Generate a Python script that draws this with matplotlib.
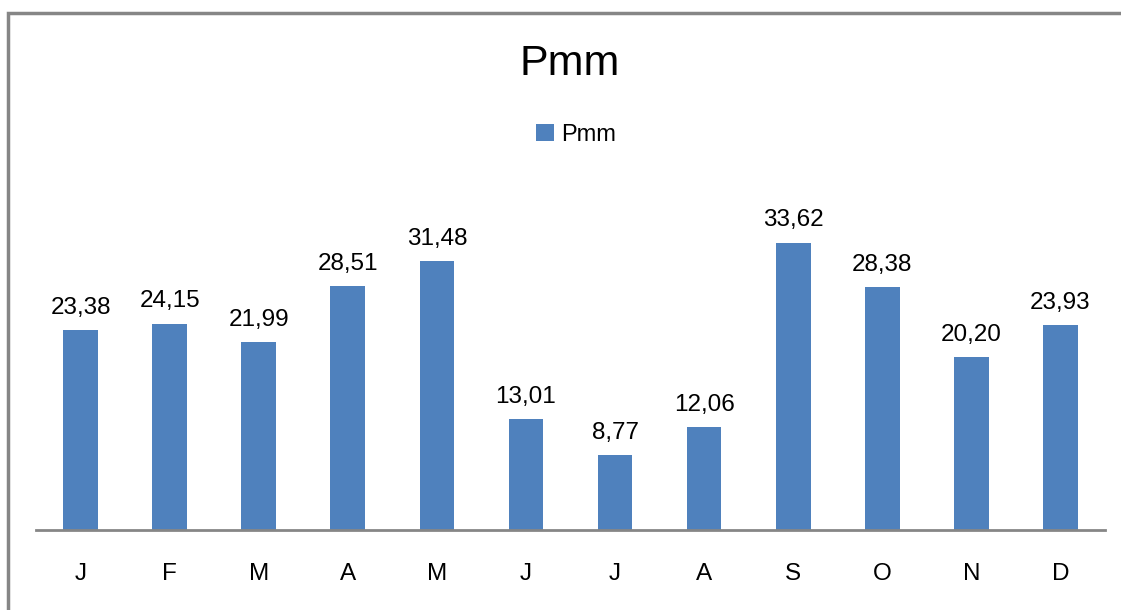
import matplotlib.pyplot as plt
from matplotlib.patches import Rectangle

plt.rcParams['font.family'] = ['Liberation Sans', 'DejaVu Sans']

# Precipitação média mensal
meses = ['J', 'F', 'M', 'A', 'M', 'J', 'J', 'A', 'S', 'O', 'N', 'D']
pmm = [23.38, 24.15, 21.99, 28.51, 31.48, 13.01, 8.77, 12.06, 33.62, 28.38, 20.20, 23.93]

cor_barra = '#4F81BD'
cor_eixo = '#868686'

fig = plt.figure(figsize=(11.21, 6.10), dpi=100)
ax = fig.add_axes([36 / 1121, 80 / 610, 1069 / 1121, 342 / 610])

x = list(range(len(pmm)))
barras = ax.bar(x, pmm, width=0.39, color=cor_barra, label='Pmm')

# Rótulos de valor com vírgula decimal
for xi, v in zip(x, pmm):
    ax.text(xi, v + 1.3, f'{v:.2f}'.replace('.', ','), ha='center', va='bottom',
            fontsize=17.5, color='black')

ax.set_xlim(-0.5, len(pmm) - 0.5)
ax.set_ylim(0, 40)
ax.set_xticks(x)
ax.set_xticklabels(meses, fontsize=17.5)
ax.tick_params(axis='x', length=0, pad=24)
ax.set_yticks([])
for lado in ['top', 'right', 'left']:
    ax.spines[lado].set_visible(False)
ax.spines['bottom'].set_color(cor_eixo)
ax.spines['bottom'].set_linewidth(2)

# Título e legenda
fig.text(570 / 1121, 1 - 64 / 610, 'Pmm', ha='center', va='center', fontsize=31)
fig.legend(handles=[barras], labels=['Pmm'], loc='center', bbox_to_anchor=(576 / 1121, 1 - 135 / 610),
           frameon=False, fontsize=17, handlelength=0.75, handleheight=0.75, handletextpad=0.3)

# Moldura do gráfico
fig.patches.append(Rectangle((8 / 1121, -0.1), 1.2, 1 - 13.5 / 610 + 0.1, transform=fig.transFigure,
                             fill=False, edgecolor=cor_eixo, linewidth=2.5))

fig.savefig('out.png', dpi=100)
